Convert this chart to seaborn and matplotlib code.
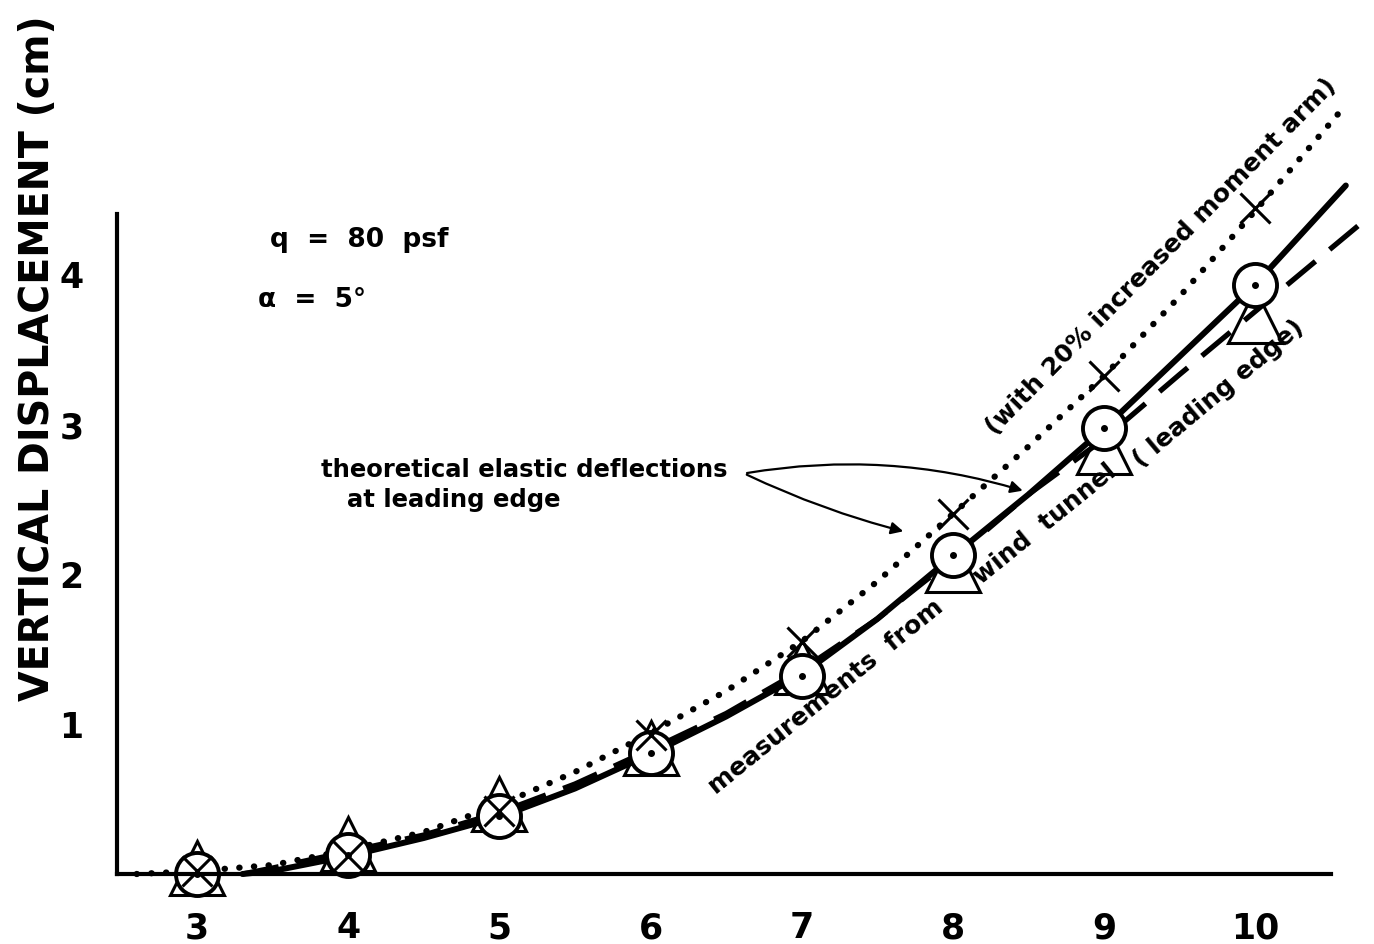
import numpy as np
import pandas as pd
import matplotlib
matplotlib.use("Agg")
import matplotlib.pyplot as plt
import seaborn as sns
from matplotlib import font_manager

# ---------------- data ----------------
x_pts = [3, 4, 5, 6, 7, 8, 9, 10]
circle_y = [0.0, 0.13, 0.39, 0.81, 1.32, 2.13, 2.97, 3.93]      # measurements (wind tunnel)
triangle_y = [0.04, 0.2, 0.47, 0.84, 1.38, 2.06, 2.85, 3.72]     # theoretical, leading edge
cross_y = [0.02, 0.12, 0.42, 0.93, 1.55, 2.4, 3.32, 4.44]        # theoretical, 20% moment arm

solid_x = [3.3, 3.5, 4.0, 4.5, 5.0, 5.5, 6.0, 6.5, 7.0, 7.5, 8.0, 8.5, 9.0, 9.5, 10.0, 10.6]
solid_y = [0.0, 0.02, 0.12, 0.24, 0.38, 0.57, 0.8, 1.05, 1.33, 1.7, 2.12, 2.53, 2.97, 3.45, 3.93, 4.59]

dashed_x = [3.3, 3.5, 4.0, 4.5, 5.0, 5.5, 6.0, 6.5, 7.0, 7.5, 8.0, 8.5, 9.0, 9.5, 10.0, 10.68]
dashed_y = [0.0, 0.04, 0.15, 0.26, 0.41, 0.6, 0.83, 1.07, 1.36, 1.7, 2.1, 2.53, 2.9, 3.33, 3.75, 4.32]

dotted_x = [2.6, 3.0, 3.5, 4.0, 4.5, 5.0, 5.5, 6.0, 6.5, 7.0, 7.5, 8.0, 8.5, 9.0, 9.5, 10.0, 10.56]
dotted_y = [0.0, 0.02, 0.06, 0.16, 0.28, 0.46, 0.68, 0.94, 1.22, 1.55, 1.95, 2.4, 2.85, 3.32, 3.85, 4.42, 5.08]

x_ticks = [3, 4, 5, 6, 7, 8, 9, 10]
y_ticks = [1, 2, 3, 4]

# ---------------- style ----------------
sns.set_theme(style="white")
avail = {f.name for f in font_manager.fontManager.ttflist}
fam = "DejaVu Sans"
for cand in ["Liberation Sans Narrow", "DejaVu Sans Condensed"]:
    if cand in avail:
        fam = cand
        break
plt.rcParams["font.family"] = [fam, "DejaVu Sans"]
plt.rcParams["font.weight"] = "bold"
plt.rcParams["text.color"] = "black"
plt.rcParams["xtick.color"] = "black"
plt.rcParams["ytick.color"] = "black"
plt.rcParams["axes.labelcolor"] = "black"

fig = plt.figure(figsize=(13.74, 9.45), dpi=100)
ax = fig.add_axes([117 / 1374, 70 / 945, (1370 - 117) / 1374, (875 - 80) / 945])
ax.set_facecolor("white")

sns.lineplot(x=dotted_x, y=dotted_y, ax=ax, color="black", lw=4.5,
             linestyle=(0, (0.05, 2.3)), dash_capstyle="round", clip_on=False)
sns.lineplot(x=dashed_x, y=dashed_y, ax=ax, color="black", lw=3.8,
             linestyle=(0, (7, 3.5)), clip_on=False)
sns.lineplot(x=solid_x, y=solid_y, ax=ax, color="black", lw=4.3, clip_on=False)

# markers
ax.plot(x_pts, triangle_y, linestyle="none", marker="^", markersize=39,
        markerfacecolor="none", markeredgecolor="black", markeredgewidth=2.2, clip_on=False)
ax.plot(x_pts, circle_y, linestyle="none", marker="o", markersize=31,
        markerfacecolor="white", markeredgecolor="black", markeredgewidth=2.8, clip_on=False)
ax.plot(x_pts, circle_y, linestyle="none", marker="o", markersize=4,
        color="black", clip_on=False)
ax.plot(x_pts, cross_y, linestyle="none", marker="x", markersize=21,
        color="black", markeredgewidth=2.2, clip_on=False)

# axes
ax.set_xlim(2.47, 10.76)
ax.set_ylim(0, 5.3)
for s in ["top", "right"]:
    ax.spines[s].set_visible(False)
for s in ["left", "bottom"]:
    ax.spines[s].set_color("black")
    ax.spines[s].set_linewidth(3)
ax.spines["left"].set_bounds(0, 4.4)
ax.spines["bottom"].set_bounds(2.47, 10.5)
ax.set_xticks(x_ticks)
ax.set_yticks(y_ticks)
ax.set_xticklabels([str(v) for v in x_ticks], fontsize=25, fontweight="bold")
ax.set_yticklabels([str(v) for v in y_ticks], fontsize=25, fontweight="bold")
ax.tick_params(axis="both", direction="in", length=9, width=2.5, color="black",
               labelcolor="black")
ax.tick_params(axis="x", pad=26)
ax.tick_params(axis="y", pad=24)
ax.set_xlabel("")
ax.set_ylabel("")
ax.grid(False)

fig.text(38 / 1374, 1 - 358 / 945, "VERTICAL DISPLACEMENT (cm)", rotation=90,
         ha="center", va="center", fontsize=28.5, fontweight="bold", color="black")

# texts
ax.text(3.48, 4.23, "q  =  80  psf", fontsize=19, fontweight="bold", va="center", ha="left")
ax.text(3.40, 3.83, "α  =  5°", fontsize=19, fontweight="bold", va="center", ha="left")

ax.text(3.82, 2.70, "theoretical elastic deflections", fontsize=17.5, fontweight="bold",
        va="center", ha="left")
ax.text(3.99, 2.50, "at leading edge", fontsize=17.5, fontweight="bold",
        va="center", ha="left")
ax.annotate("", xy=(7.69, 2.28), xytext=(6.62, 2.67),
            arrowprops=dict(arrowstyle="-|>", color="black", lw=1.6,
                            mutation_scale=18, connectionstyle="arc3,rad=0.05"))
ax.annotate("", xy=(8.48, 2.55), xytext=(6.62, 2.67),
            arrowprops=dict(arrowstyle="-|>", color="black", lw=1.6,
                            mutation_scale=18, connectionstyle="arc3,rad=-0.12"))

ax.text(9.38, 4.12, "(with 20% increased moment arm)", fontsize=18, fontweight="bold",
        rotation=45.5, ha="center", va="center", rotation_mode="anchor")
ax.text(9.76, 3.21, "( leading edge)", fontsize=18, fontweight="bold",
        rotation=40, ha="center", va="center", rotation_mode="anchor")
ax.text(7.16, 1.19, "measurements  from", fontsize=18, fontweight="bold",
        rotation=39, ha="center", va="center", rotation_mode="anchor")
ax.text(8.61, 2.34, "wind  tunnel", fontsize=18, fontweight="bold",
        rotation=39, ha="center", va="center", rotation_mode="anchor")

fig.savefig("out.png", dpi=100, facecolor="white")
print("font:", fam)
